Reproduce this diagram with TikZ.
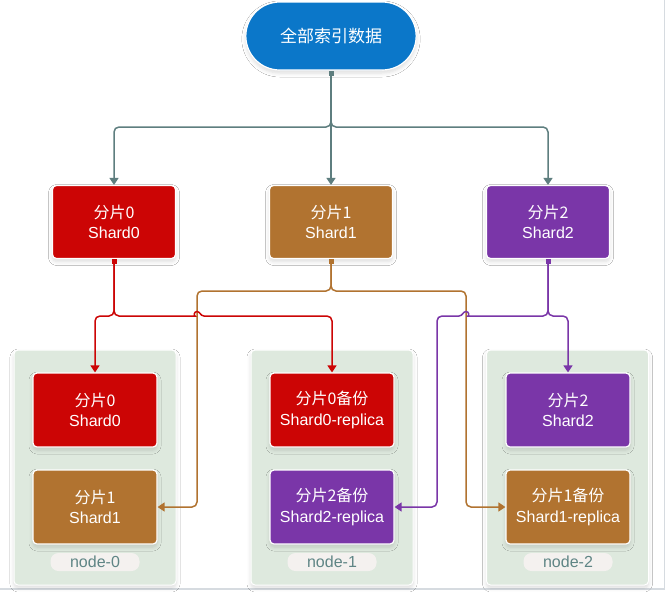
\documentclass[tikz,border=0pt]{standalone}
\usepackage{fontspec}
\setmainfont{Liberation Sans}
\newfontfamily\cjk{Noto Sans CJK SC}
\usetikzlibrary{arrows.meta,shapes.misc,shadows.blur}
\definecolor{topblue}{HTML}{0B77C9}
\definecolor{shred}{HTML}{CC0505}
\definecolor{shbrown}{HTML}{B17330}
\definecolor{shpurple}{HTML}{7A36A8}
\definecolor{gconn}{HTML}{5E7E7F}
\definecolor{grpbg}{HTML}{DEE9DE}
\definecolor{pillbg}{HTML}{F4F1EF}
\definecolor{pilltext}{HTML}{5F8585}
\definecolor{framegray}{HTML}{D6DBE0}
\begin{document}
\begin{tikzpicture}[x=1pt,y=-1pt,
  soft/.style={blur shadow={shadow xshift=0pt,shadow yshift=-3pt,shadow blur radius=4pt,shadow blur steps=6,shadow opacity=14}},
  box/.style={rectangle,rounded corners=4pt,draw=white,line width=1.2pt,minimum width=124pt,minimum height=74pt,text=white,align=center,font=\fontsize{16}{20.5}\selectfont,inner sep=0pt,soft},
  grp/.style={rectangle,rounded corners=4pt,fill=grpbg,draw=white,line width=1pt,minimum width=162pt,minimum height=235pt,soft},
  pill/.style={rectangle,rounded corners=8pt,fill=pillbg,minimum width=89pt,minimum height=18pt,inner sep=0pt,text=pilltext,font=\fontsize{16}{18}\selectfont},
  conn/.style={line width=1.5pt,rounded corners=5pt,{Square[width=5pt,length=5pt]}-{Triangle[width=9pt,length=7pt]}},
]
\useasboundingbox (0,0) rectangle (667,592);
\fill[white] (0,0) rectangle (667,592);
\draw[framegray,line width=1.2pt] (664.5,0) -- (664.5,589) -- (0,589);

% top node
\node[rounded rectangle,fill=topblue,draw=white,line width=1.2pt,minimum width=177pt,minimum height=68pt,text=white,font=\cjk\fontsize{17}{20}\selectfont,soft] (top) at (331,36) {全部索引数据};

% shard row
\node[box,fill=shred,minimum width=123pt,minimum height=73pt] (s0) at (114,222) {{\cjk 分片0}\\Shard0};
\node[box,fill=shbrown,minimum width=123pt,minimum height=73pt] (s1) at (331,222) {{\cjk 分片1}\\Shard1};
\node[box,fill=shpurple,minimum width=123pt,minimum height=73pt] (s2) at (548,222) {{\cjk 分片2}\\Shard2};

% groups
\node[grp] (g0) at (95,467.5) {};
\node[grp] (g1) at (332,467.5) {};
\node[grp] (g2) at (567.5,467.5) {};

\node[box,fill=shred] (a0) at (95,410) {{\cjk 分片0}\\Shard0};
\node[box,fill=shbrown] (b0) at (95,507) {{\cjk 分片1}\\Shard1};
\node[box,fill=shred] (a1) at (332,410) {{\cjk 分片0备份}\\Shard0-replica};
\node[box,fill=shpurple] (b1) at (332,507) {{\cjk 分片2备份}\\Shard2-replica};
\node[box,fill=shpurple] (c0) at (568,410) {{\cjk 分片2}\\Shard2};
\node[box,fill=shbrown] (c1) at (568,507) {{\cjk 分片1备份}\\Shard1-replica};

\node[pill] (p0) at (95,562) {node-0};
\node[pill] (p1) at (332,562) {node-1};
\node[pill] (p2) at (568,562) {node-2};

% junction coordinates
\coordinate (tj) at (331,127);
\coordinate (rj) at (114,316);
\coordinate (bj) at (331,291);
\coordinate (pj) at (548,316);
\coordinate (h1) at (197,316);
\coordinate (h2) at (466,316);
\coordinate (bl) at (197,507);
\coordinate (br) at (466,507);
\coordinate (pl) at (437,507);

% top connectors
\draw[conn,gconn] (top.south) -- (tj) -| (s0.north);
\draw[conn,gconn] (top.south) -- (s1.north);
\draw[conn,gconn] (top.south) -- (tj) -| (s2.north);

% brown
\draw[conn,shbrown] (s1.south) -- (bj) -| (bl) -- (b0.east);
\draw[conn,shbrown] (s1.south) -- (bj) -| (br) -- (c1.west);

% red
\draw[conn,shred] (s0.south) -- (rj) -| (a0.north);
\draw[conn,shred] (s0.south) -- (rj) -- ([xshift=-7pt]h1) [sharp corners]
  .. controls ([xshift=-3.5pt]h1) and ([xshift=-3pt,yshift=4.5pt]h1) .. ([yshift=4.5pt]h1)
  .. controls ([xshift=3pt,yshift=4.5pt]h1) and ([xshift=3.5pt]h1) .. ([xshift=7pt]h1)
  [rounded corners=5pt] -| (a1.north);

% purple
\draw[conn,shpurple] (s2.south) -- (pj) -| (c0.north);
\draw[conn,shpurple] (s2.south) -- (pj) -- ([xshift=7pt]h2) [sharp corners]
  .. controls ([xshift=3.5pt]h2) and ([xshift=3pt,yshift=4.5pt]h2) .. ([yshift=4.5pt]h2)
  .. controls ([xshift=-3pt,yshift=4.5pt]h2) and ([xshift=-3.5pt]h2) .. ([xshift=-7pt]h2)
  [rounded corners=5pt] -| (pl) -- (b1.east);
\end{tikzpicture}
\end{document}
